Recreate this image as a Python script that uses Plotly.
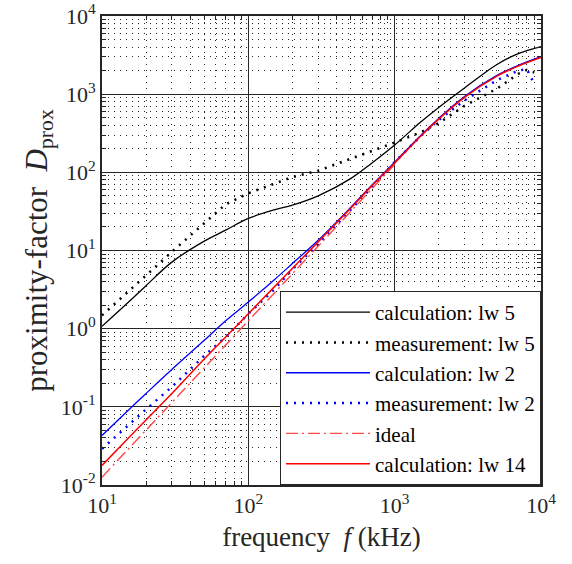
import plotly.graph_objects as go

# frequency grid (kHz)
freq_khz = [10, 15, 20, 30, 50, 70, 100, 150, 200, 300, 500, 700,
            1000, 1500, 2000, 3000, 5000, 7000, 10000]
meas_freq_khz = [10, 15, 20, 30, 50, 70, 100, 150, 200, 300, 500, 700,
                 1000, 1500, 2000, 3000, 5000, 7000, 8000, 8500, 9000]

calc_lw5 = [1.07, 2.14, 3.55, 7.1, 13.2, 18.2, 25.7, 33, 38, 50, 83, 132,
            224, 437, 676, 1200, 2400, 3310, 4070]
meas_lw5 = [1.48, 2.9, 4.8, 9.6, 22.4, 39, 54, 72, 87, 105, 148, 186,
            240, 324, 427, 708, 1175, 1820, 2040, 1950, 1900]
calc_lw2 = [0.043, 0.089, 0.148, 0.30, 0.71, 1.26, 2.19, 4.2, 6.8, 13.5, 35.5, 69,
            135, 295, 490, 933, 1740, 2340, 3020]
meas_lw2 = [0.029, 0.058, 0.093, 0.18, 0.45, 0.78, 1.55, 3.16, 5.75, 12, 33, 65,
            135, 288, 468, 832, 1510, 2000, 2090, 1700, 1350]
ideal_freq_khz = [10, 1000]
ideal = [0.0126, 126]
calc_lw14 = [0.0178, 0.039, 0.068, 0.148, 0.41, 0.78, 1.55, 3.4, 5.9, 12.9, 34.7, 67.6,
             132, 288, 479, 912, 1700, 2290, 2950]

x_ticks = [10, 100, 1000, 10000]
x_ticktext = ["10<sup>1</sup>", "10<sup>2</sup>", "10<sup>3</sup>", "10<sup>4</sup>"]
y_ticks = [0.01, 0.1, 1, 10, 100, 1000, 10000]
y_ticktext = ["10<sup>-2</sup>", "10<sup>-1</sup>", "10<sup>0</sup>", "10<sup>1</sup>",
              "10<sup>2</sup>", "10<sup>3</sup>", "10<sup>4</sup>"]

FONT = "Liberation Serif, Times New Roman, serif"
INK = "#262626"

fig = go.Figure()

fig.add_trace(go.Scatter(x=freq_khz, y=calc_lw5, mode="lines", name="calculation: lw 5",
                         line=dict(color="black", width=1.3, shape="spline")))
fig.add_trace(go.Scatter(x=meas_freq_khz, y=meas_lw5, mode="lines", name="measurement: lw 5",
                         line=dict(color="black", width=2.5, dash="2px,6px")))
fig.add_trace(go.Scatter(x=freq_khz, y=calc_lw2, mode="lines", name="calculation: lw 2",
                         line=dict(color="#0000ff", width=1.3, shape="spline")))
fig.add_trace(go.Scatter(x=meas_freq_khz, y=meas_lw2, mode="lines", name="measurement: lw 2",
                         line=dict(color="#0000ff", width=2.5, dash="2px,6px")))
fig.add_trace(go.Scatter(x=ideal_freq_khz, y=ideal, mode="lines", name="ideal",
                         line=dict(color="#ff4a4a", width=1.4, dash="12px,4px,2px,4px")))
fig.add_trace(go.Scatter(x=freq_khz, y=calc_lw14, mode="lines", name="calculation: lw 14",
                         line=dict(color="#ff0000", width=1.5, shape="spline")))

# minor ticks at 2..9 of every decade
x_minor = [m * 10 ** k for k in range(1, 4) for m in range(2, 10)]
y_minor = [m * 10.0 ** k for k in range(-2, 4) for m in range(2, 10)]

axis_common = dict(
    showline=True, mirror="allticks", linecolor=INK, linewidth=2,
    ticks="inside", ticklen=7, tickcolor=INK, tickwidth=1,
    showgrid=True, gridcolor=INK, gridwidth=1,
    zeroline=False, automargin=False,
    tickfont=dict(family=FONT, size=22, color=INK),
)
minor_common = dict(ticks="inside", ticklen=4, tickcolor=INK, showgrid=True,
                    gridcolor=INK, griddash="1px,5px", gridwidth=1)

fig.update_xaxes(
    type="log", range=[1, 4], tickmode="array", tickvals=x_ticks, ticktext=x_ticktext,
    minor=dict(tickmode="array", tickvals=x_minor, **minor_common),
    title=dict(text="frequency  <i>f</i> (kHz)", font=dict(family=FONT, size=27, color=INK),
               standoff=10),
    **axis_common,
)
fig.update_yaxes(
    type="log", range=[-2, 4], tickmode="array", tickvals=y_ticks, ticktext=y_ticktext,
    minor=dict(tickmode="array", tickvals=y_minor, **minor_common),
    title=dict(text="proximity-factor  <i>D</i><sub>prox</sub>",
               font=dict(family=FONT, size=31, color=INK), standoff=4),
    **axis_common,
)

fig.update_layout(
    width=572, height=564,
    paper_bgcolor="white", plot_bgcolor="white",
    margin=dict(l=102, r=31, t=16, b=79),
    font=dict(family=FONT, size=22, color="black"),
    legend=dict(
        x=1, y=0, xanchor="right", yanchor="bottom",
        bgcolor="white", bordercolor=INK, borderwidth=1,
        font=dict(family=FONT, size=21, color="black"),
        itemwidth=84, tracegroupgap=0,
    ),
    showlegend=True,
)

fig.write_html("out.html", config={"displayModeBar": False},
               post_script="document.body.style.margin='0';")
